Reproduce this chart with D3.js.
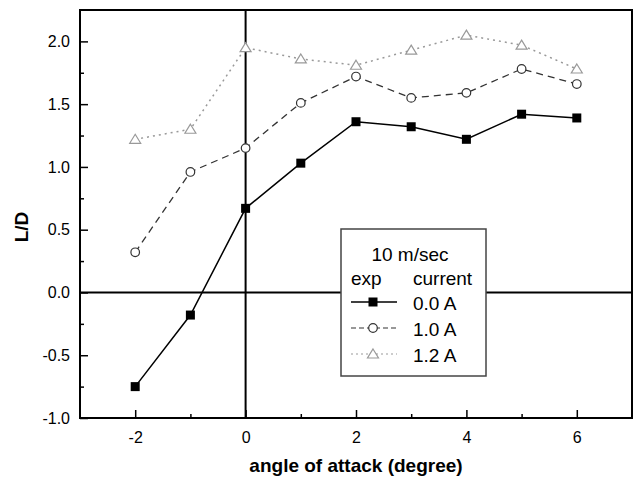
<!DOCTYPE html>
<html>
<head>
<meta charset="utf-8">
<script src="https://cdn.jsdelivr.net/npm/d3@7"></script>
<style>
  body { margin: 0; background: #fff; }
  text { font-family: Arial, "Liberation Sans", Helvetica, sans-serif; }
</style>
</head>
<body>
<div id="chart"></div>
<script>

// data
var angles = [-2, -1, 0, 1, 2, 3, 4, 5, 6];
var ld_0A  = [-0.75, -0.18, 0.67, 1.03, 1.36, 1.32, 1.22, 1.42, 1.39];
var ld_1A  = [0.32, 0.96, 1.15, 1.51, 1.72, 1.55, 1.59, 1.78, 1.66];
var ld_12A = [1.22, 1.30, 1.95, 1.86, 1.81, 1.93, 2.05, 1.97, 1.78];
var seriesNames = ["0.0 A", "1.0 A", "1.2 A"];
var xMajor = [-2, 0, 2, 4, 6];
var xMinor = [-1, 1, 3, 5];
var yMajor = [-1.0, -0.5, 0.0, 0.5, 1.0, 1.5, 2.0];
var yMinor = [-0.75, -0.25, 0.25, 0.75, 1.25, 1.75];

var W = 634, H = 480;
var margin = {top: 10, right: 2, bottom: 62, left: 80};
var plot_w = W - margin.left - margin.right;
var plot_h = H - margin.top - margin.bottom;

var svg = d3.select("#chart").append("svg")
    .attr("width", W)
    .attr("height", H);

var g = svg.append("g")
    .attr("transform", "translate(" + margin.left + "," + margin.top + ")");

var x = d3.scaleLinear().domain([-3, 7]).range([0, plot_w]);
var y = d3.scaleLinear().domain([-1, 2.25]).range([plot_h, 0]);

// zero lines
g.append("line")
  .attr("x1", x(0)).attr("x2", x(0))
  .attr("y1", 0).attr("y2", plot_h)
  .attr("stroke", "#000").attr("stroke-width", 2);
g.append("line")
  .attr("x1", 0).attr("x2", plot_w)
  .attr("y1", y(0)).attr("y2", y(0))
  .attr("stroke", "#000").attr("stroke-width", 2);

// axes (ticks point inward)
g.append("g")
  .attr("transform", "translate(0," + plot_h + ")")
  .call(d3.axisBottom(x).tickValues(xMajor).tickSize(-8).tickPadding(14)
        .tickFormat(function(d){ return String(d); }));
g.append("g")
  .attr("transform", "translate(0," + plot_h + ")")
  .call(d3.axisBottom(x).tickValues(xMinor).tickSize(-4).tickFormat(""));

g.append("g")
  .call(d3.axisLeft(y).tickValues(yMajor).tickSize(-8).tickPadding(10)
        .tickFormat(function(d){ return d.toFixed(1); }));
g.append("g")
  .call(d3.axisLeft(y).tickValues(yMinor).tickSize(-4).tickFormat(""));

g.selectAll(".domain").remove();
g.selectAll(".tick line").attr("stroke", "#000").attr("stroke-width", 1.5);
g.selectAll(".tick text")
  .attr("fill", "#000")
  .style("font-size", "16px")
  .style("font-family", "Arial, 'Liberation Sans', sans-serif");

// frame
g.append("rect")
  .attr("x", 0).attr("y", 0)
  .attr("width", plot_w).attr("height", plot_h)
  .attr("fill", "none")
  .attr("stroke", "#000")
  .attr("stroke-width", 2);

// axis titles
svg.append("text")
  .attr("x", margin.left + plot_w / 2)
  .attr("y", 472)
  .attr("text-anchor", "middle")
  .style("font-size", "19px")
  .style("font-weight", "bold")
  .text("angle of attack (degree)");

svg.append("text")
  .attr("transform", "translate(28,227) rotate(-90)")
  .attr("text-anchor", "middle")
  .style("font-size", "19px")
  .style("font-weight", "bold")
  .text("L/D");

// series
var series = [
  {name: seriesNames[0], values: ld_0A,  color: "#000", dash: null,  width: 1.5, marker: "square"},
  {name: seriesNames[1], values: ld_1A,  color: "#333", dash: "7,5", width: 1.3, marker: "circle"},
  {name: seriesNames[2], values: ld_12A, color: "#999", dash: "2,4", width: 1.5, marker: "triangle"}
];

var line = d3.line()
  .x(function(d, i){ return x(angles[i]); })
  .y(function(d){ return y(d); });

function drawMarker(sel, s, cx, cy) {
  if (s.marker == "square") {
    sel.append("rect")
      .attr("x", cx - 4.5).attr("y", cy - 4.5)
      .attr("width", 9).attr("height", 9)
      .attr("fill", "#000");
  } else if (s.marker == "circle") {
    sel.append("circle")
      .attr("cx", cx).attr("cy", cy).attr("r", 4.3)
      .attr("fill", "#fff")
      .attr("stroke", "#333").attr("stroke-width", 1.2);
  } else {
    sel.append("path")
      .attr("d", "M" + cx + "," + (cy - 5) + "L" + (cx + 5.5) + "," + (cy + 4) + "L" + (cx - 5.5) + "," + (cy + 4) + "Z")
      .attr("fill", "#fff")
      .attr("stroke", "#999").attr("stroke-width", 1.2);
  }
}

series.slice().reverse().forEach(function(s) {
  g.append("path")
    .attr("d", line(s.values))
    .attr("fill", "none")
    .attr("stroke", s.color)
    .attr("stroke-width", s.width)
    .attr("stroke-dasharray", s.dash);
  var mg = g.append("g");
  s.values.forEach(function(v, i) {
    drawMarker(mg, s, x(angles[i]), y(v));
  });
});

// legend
var leg = svg.append("g").attr("transform", "translate(341,229)");
leg.append("rect")
  .attr("width", 145).attr("height", 147)
  .attr("fill", "#fff")
  .attr("stroke", "#444")
  .attr("stroke-width", 1.5);
leg.append("text")
  .attr("x", 69).attr("y", 32)
  .attr("text-anchor", "middle")
  .style("font-size", "19px")
  .text("10 m/sec");
leg.append("text")
  .attr("x", 10).attr("y", 56)
  .style("font-size", "19px")
  .text("exp");
leg.append("text")
  .attr("x", 72).attr("y", 56)
  .style("font-size", "19px")
  .text("current");

series.forEach(function(s, i) {
  var ly = 73 + i * 26;
  leg.append("line")
    .attr("x1", 10).attr("x2", 56)
    .attr("y1", ly).attr("y2", ly)
    .attr("stroke", s.color)
    .attr("stroke-width", s.marker == "square" ? 1.5 : 1.2)
    .attr("stroke-dasharray", s.marker == "square" ? null : (s.marker == "circle" ? "5,3" : "2,3"));
  drawMarker(leg, s, 32, ly);
  leg.append("text")
    .attr("x", 72).attr("y", ly + 8)
    .style("font-size", "19px")
    .text(s.name);
});

</script>
</body>
</html>
